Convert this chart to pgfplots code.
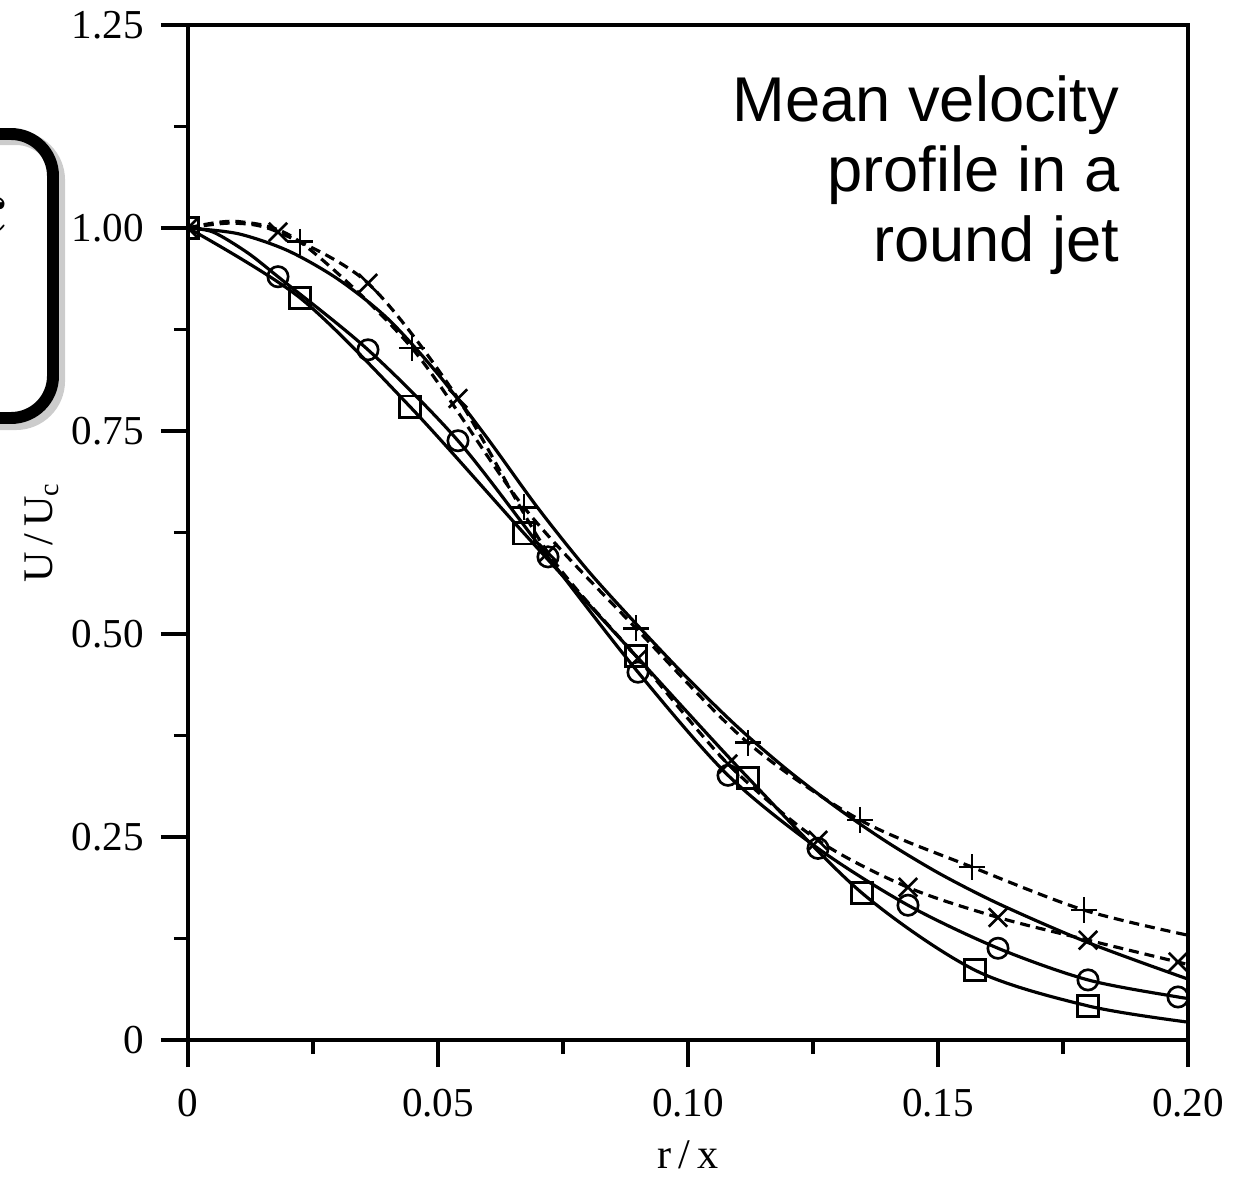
\documentclass[border=0pt]{standalone}
\usepackage{fontspec}
\setmainfont{Liberation Serif}
\newfontfamily\arialfont{Liberation Sans}
\usepackage{pgfplots}
\pgfplotsset{compat=1.18}
\usetikzlibrary{calc}

% one pixel of the reference = 0.01cm
\tikzset{
  fitline/.style={black, line width=0.9pt, smooth, no marks},
  dashline/.style={black, line width=0.9pt, smooth, no marks, dash pattern=on 1mm off 0.6mm},
  mk/.style={only marks, black, mark options={line width=0.75pt, solid, fill=white}},
}

\begin{document}
\begin{tikzpicture}
\begin{axis}[
  at={(1.88cm,1.37cm)}, anchor=south west,
  scale only axis, width=10cm, height=10.15cm,
  xmin=0, xmax=0.2, ymin=0, ymax=1.25,
  xtick={0,0.05,0.1,0.15,0.2}, xticklabels={0,0.05,0.10,0.15,0.20},
  ytick={0,0.25,0.5,0.75,1,1.25}, yticklabels={0,0.25,0.50,0.75,1.00,1.25},
  minor xtick={0.025,0.075,0.125,0.175},
  minor ytick={0.125,0.375,0.625,0.875,1.125},
  xtick pos=bottom, ytick pos=left,
  tick align=outside,
  major tick length=0.27cm, minor tick length=0.14cm,
  axis line style={line width=1pt},
  every tick/.style={black, line width=0.9pt},
  tick label style={font=\fontsize{11.7}{13}\selectfont},
  xticklabel style={yshift=-0.1cm},
  yticklabel style={xshift=-0.05cm},
  xlabel={r\,/\,x}, ylabel={U\,/\,U\textsubscript{c}},
  label style={font=\fontsize{12}{14}\selectfont},
  xlabel style={at={(axis description cs:0.5,-0.113)}, anchor=center},
  ylabel style={at={(axis description cs:-0.146,0.5)}, anchor=center},
  clip marker paths=true,
]
% empirical fit, no symbols
\addplot[fitline] coordinates {
  (0,1.0) (0.01,0.993) (0.02,0.972) (0.03,0.937) (0.04,0.888) (0.05,0.82)
  (0.06,0.74) (0.07,0.655) (0.08,0.578) (0.09,0.51) (0.10,0.445) (0.11,0.385)
  (0.12,0.332) (0.13,0.285) (0.14,0.243) (0.15,0.206) (0.16,0.174)
  (0.17,0.146) (0.18,0.12) (0.19,0.097) (0.2,0.075)};
% circles
\addplot[fitline] coordinates {
  (0,1.0) (0.005,0.995) (0.0118,0.97) (0.018,0.94) (0.036,0.85) (0.054,0.738)
  (0.072,0.595) (0.09,0.453) (0.108,0.326) (0.126,0.236) (0.144,0.166)
  (0.162,0.113) (0.18,0.074) (0.198,0.053) (0.2,0.052)};
\addplot[mk, mark=o, mark size=2.9pt] coordinates {
  (0.018,0.94) (0.036,0.85) (0.054,0.738) (0.072,0.595) (0.09,0.453)
  (0.108,0.326) (0.126,0.236) (0.144,0.166) (0.162,0.113) (0.18,0.074)
  (0.198,0.053)};
% squares
\addplot[fitline] coordinates {
  (0,1.0) (0.0224,0.914) (0.0444,0.78) (0.0672,0.624) (0.0896,0.473)
  (0.112,0.323) (0.1348,0.181) (0.1574,0.086) (0.18,0.042) (0.2,0.022)};
\addplot[mk, mark=square, mark size=3pt] coordinates {
  (0,1.0) (0.0224,0.914) (0.0444,0.78) (0.0672,0.624) (0.0896,0.473)
  (0.112,0.323) (0.1348,0.181) (0.1574,0.086) (0.18,0.042)};
% crosses
\addplot[dashline] coordinates {
  (0,1.0) (0.009,1.006) (0.018,0.995) (0.036,0.932) (0.054,0.79) (0.072,0.60)
  (0.09,0.47) (0.108,0.34) (0.126,0.246) (0.144,0.188) (0.162,0.151)
  (0.18,0.123) (0.198,0.096) (0.2,0.093)};
\addplot[mk, mark=x, mark size=3.7pt] coordinates {
  (0,1.0) (0.018,0.995) (0.036,0.932) (0.054,0.79) (0.072,0.60) (0.09,0.47)
  (0.108,0.34) (0.126,0.246) (0.144,0.188) (0.162,0.151) (0.18,0.123)
  (0.198,0.096)};
% pluses
\addplot[dashline] coordinates {
  (0,1.0) (0.01,1.008) (0.0224,0.983) (0.0448,0.852) (0.0672,0.656)
  (0.0896,0.507) (0.112,0.366) (0.1344,0.271) (0.1568,0.213) (0.1792,0.160)
  (0.2,0.129)};
\addplot[mk, mark=+, mark size=3.7pt] coordinates {
  (0,1.0) (0.0224,0.983) (0.0448,0.852) (0.0672,0.656) (0.0896,0.507)
  (0.112,0.366) (0.1344,0.271) (0.1568,0.213) (0.1792,0.160)};
\end{axis}

% caption in the upper right
\begin{scope}[every node/.style={anchor=base east, inner sep=0pt,
    font=\arialfont\fontsize{18}{21}\selectfont}]
  \node at (11.20cm,10.55cm) {Mean velocity};
  \node at (11.20cm,9.85cm) {profile in a};
  \node at (11.20cm,9.15cm) {round jet};
\end{scope}

% rounded box cut by the left edge
\begin{scope}[overlay]
  \draw[black!20, line width=4pt, rounded corners=0.42cm]
    (-1.0cm,10.39cm) rectangle (0.58cm,7.54cm);
  \draw[black, line width=3.4pt, rounded corners=0.42cm]
    (-1.0cm,10.43cm) rectangle (0.53cm,7.59cm);
  \node[font=\fontsize{28}{30}\selectfont] at (-0.13cm,9.60cm) {$c$};
\end{scope}

\pgfresetboundingbox
\path[use as bounding box] (0,0) rectangle (12.47cm,11.77cm);
\end{tikzpicture}
\end{document}
